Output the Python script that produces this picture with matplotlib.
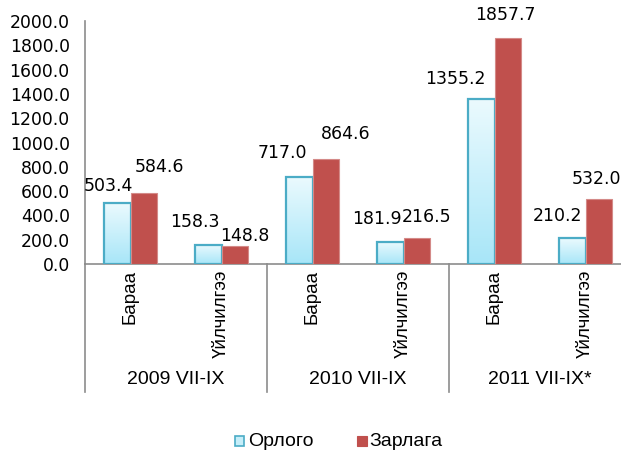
import numpy as np
import matplotlib.pyplot as plt
from matplotlib.patches import Rectangle
from matplotlib.colors import LinearSegmentedColormap
from matplotlib.transforms import blended_transform_factory

# data
periods = ["2009 VII-IX", "2010 VII-IX", "2011 VII-IX*"]
kinds = ["Бараа", "Үйлчилгээ"]
orlogo = [503.4, 158.3, 717.0, 181.9, 1355.2, 210.2]
zarlaga = [584.6, 148.8, 864.6, 216.5, 1857.7, 532.0]
series_names = ["Орлого", "Зарлага"]

# hand placed label offsets (pixels), like in the original chart
orl_dx = [-9.5, -13.5, -17.5, -13.5, -26.5, -14.5]
orl_dy = [17, 23, 24, 23, 20, 22]
zar_dx = [15.5, 10.5, 20.5, 10.5, -2.5, -2.5]
zar_dy = [26, 10, 25, 21, 23, 20]

W, H = 621, 450
fig = plt.figure(figsize=(W / 100, H / 100), dpi=100)
ax = fig.add_axes([85 / W, (H - 264) / H, 546 / W, 243 / H])

n = len(orlogo)
x = np.arange(n) + 0.5
bw = 0.286

b1 = ax.bar(x - bw / 2, orlogo, bw, color="none", edgecolor="#4bacc6", linewidth=1.6, zorder=3)
b2 = ax.bar(x + bw / 2, zarlaga, bw, color="#c0504d", edgecolor="#d48a88", linewidth=0.8, zorder=3)

# gradient fill for the light bars: light at the top, deeper cyan at the bottom
grad = np.linspace(0, 1, 100).reshape(-1, 1)
cmap = LinearSegmentedColormap.from_list("cy", ["#a8e6f8", "#ebfafe"])
for p in b1:
    x0, y0 = p.get_x(), p.get_y()
    im = ax.imshow(grad, extent=[x0, x0 + p.get_width(), y0, y0 + p.get_height()],
                   cmap=cmap, aspect="auto", zorder=2.5, origin="lower")
    im.set_clip_path(p)

ax.set_xlim(0, n)
ax.set_ylim(0, 2000)
ax.set_yticks(np.arange(0, 2001, 200))
ax.set_yticklabels([f"{v:.1f}" for v in np.arange(0, 2001, 200)],
                   fontsize=12.4, family="DejaVu Sans")
ax.tick_params(axis="y", length=0, pad=11)

ax.set_xticks(x)
ax.set_xticklabels(kinds * len(periods), rotation=90, va="top", ha="center",
                   fontsize=13.5, family="Liberation Sans")
ax.tick_params(axis="x", length=0, pad=4)

for s in ["top", "right"]:
    ax.spines[s].set_visible(False)
for s in ["left", "bottom"]:
    ax.spines[s].set_color("#8c8c8c")
    ax.spines[s].set_linewidth(1.2)

# data labels
for i in range(n):
    ax.annotate(f"{orlogo[i]:.1f}", (x[i] - bw / 2, orlogo[i]), xytext=(orl_dx[i], orl_dy[i]),
                textcoords="offset pixels", ha="center", va="center", fontsize=12.5,
                family="DejaVu Sans", zorder=5)
    ax.annotate(f"{zarlaga[i]:.1f}", (x[i] + bw / 2, zarlaga[i]), xytext=(zar_dx[i], zar_dy[i]),
                textcoords="offset pixels", ha="center", va="center", fontsize=12.5,
                family="DejaVu Sans", zorder=5)

# group axis
tr = blended_transform_factory(ax.transData, ax.transAxes)
for g in range(len(periods) + 1):
    ax.plot([2 * g, 2 * g], [0, -128 / 243], transform=tr, color="#8c8c8c",
            lw=1.2, clip_on=False)
for g, lab in enumerate(periods):
    ax.text(2 * g + 1, -116 / 243, lab, transform=tr, ha="center", va="center",
            fontsize=14, family="Liberation Sans")

# legend at the bottom edge
fig.add_artist(Rectangle((235 / W, 4 / H), 9 / W, 10 / H, transform=fig.transFigure,
                         facecolor="#c6eef9", edgecolor="#4bacc6", lw=1.2))
fig.text(248 / W, 4 / H, series_names[0], ha="left", va="baseline", fontsize=14,
         family="Liberation Sans")
fig.add_artist(Rectangle((357 / W, 4 / H), 10 / W, 10 / H, transform=fig.transFigure,
                         facecolor="#c0504d", edgecolor="#c0504d", lw=0.8))
fig.text(369 / W, 4 / H, series_names[1], ha="left", va="baseline", fontsize=14,
         family="Liberation Sans")

fig.savefig("out.png", dpi=100)
